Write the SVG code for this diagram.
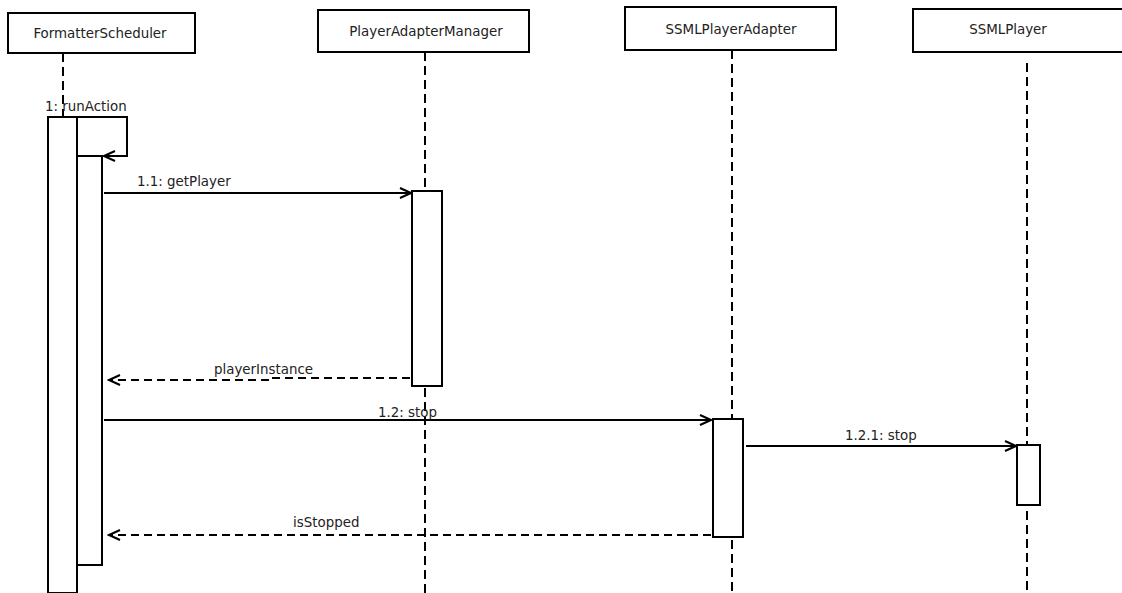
<svg xmlns="http://www.w3.org/2000/svg" width="1122" height="593" viewBox="0 0 1122 593">
<style>
.box{fill:#fff;stroke:#000;stroke-width:2}
.act{fill:#fff;stroke:#000;stroke-width:2}
.life{stroke:#000;stroke-width:2;stroke-dasharray:9,5;fill:none}
.msg{stroke:#000;stroke-width:2;fill:none}
.ret{stroke:#000;stroke-width:2;stroke-dasharray:8,5;fill:none}
text{font-family:"DejaVu Sans",sans-serif;font-size:13.4px;fill:#222}
.c{text-anchor:middle}
</style>
<defs>
<marker id="open" markerWidth="14" markerHeight="14" refX="12" refY="6" orient="auto" markerUnits="userSpaceOnUse">
<path d="M1,1 L12,6 L1,11" fill="none" stroke="#000" stroke-width="2"/>
</marker>
</defs>
<rect width="1122" height="593" fill="#fff"/>
<g id="lifelines">
<line class="life" x1="63" y1="53" x2="63" y2="117"/>
<line class="life" x1="425" y1="52" x2="425" y2="593"/>
<line class="life" x1="732" y1="50" x2="732" y2="593"/>
<line class="life" x1="1027" y1="63" x2="1027" y2="593"/>
</g>
<g id="FormatterScheduler">
<rect class="box" x="8" y="13" width="187" height="40"/>
<text class="c" x="100" y="38">FormatterScheduler</text>
<rect class="act" x="48" y="117" width="29" height="476"/>
<rect class="act" x="77" y="156" width="25" height="409"/>
</g>
<g id="PlayerAdapterManager">
<rect class="box" x="318" y="10" width="211" height="42"/>
<text class="c" x="426" y="36">PlayerAdapterManager</text>
<rect class="act" x="412" y="191" width="30" height="195"/>
</g>
<g id="SSMLPlayerAdapter">
<rect class="box" x="625" y="7" width="211" height="43"/>
<text class="c" x="731" y="34">SSMLPlayerAdapter</text>
<rect class="act" x="713" y="419" width="30" height="118"/>
</g>
<g id="SSMLPlayer">
<rect class="box" x="913" y="9" width="212" height="43"/>
<text class="c" x="1008" y="34">SSMLPlayer</text>
<rect class="act" x="1017" y="445" width="23" height="60"/>
</g>
<g id="connectors">
<path class="msg" d="M77,117 H127 V156 H104" marker-end="url(#open)"/>
<text x="45" y="111">1: runAction</text>
<line class="msg" x1="104" y1="193" x2="411" y2="193" marker-end="url(#open)"/>
<text x="137" y="186">1.1: getPlayer</text>
<path class="ret" d="M410,378 H270 V380 H109" marker-end="url(#open)"/>
<text x="214" y="374">playerInstance</text>
<line class="msg" x1="104" y1="420" x2="711" y2="420" marker-end="url(#open)"/>
<text x="378" y="417">1.2: stop</text>
<line class="msg" x1="746" y1="446" x2="1016" y2="446" marker-end="url(#open)"/>
<text x="845" y="440">1.2.1: stop</text>
<line class="ret" x1="711" y1="535" x2="109" y2="535" marker-end="url(#open)"/>
<text x="293" y="527">isStopped</text>
</g>
</svg>
